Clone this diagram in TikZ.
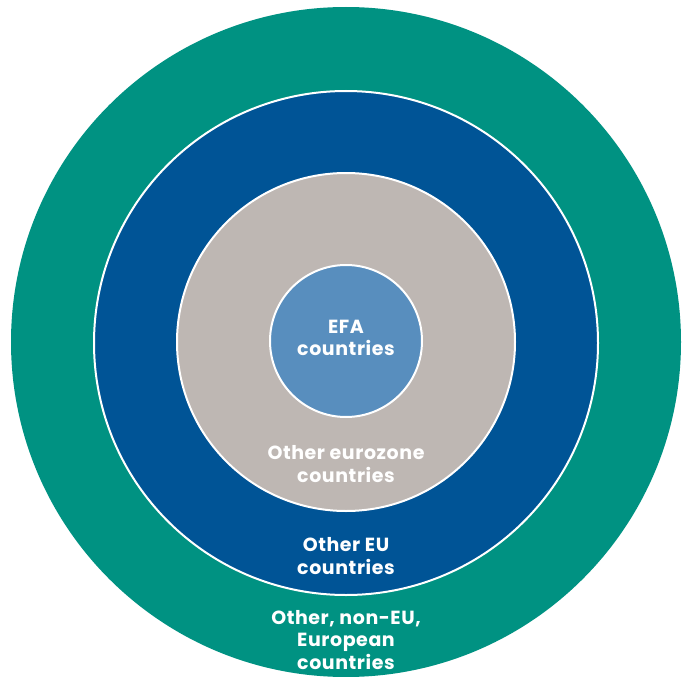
\documentclass[tikz,border=0pt]{standalone}
\usepackage{fontspec}
\setmainfont{Poppins}[LetterSpace=3]
\usepackage{xcolor}
\definecolor{cNonEU}{RGB}{0,146,130}
\definecolor{cEU}{RGB}{0,84,150}
\definecolor{cEuro}{RGB}{190,183,179}
\definecolor{cEFA}{RGB}{88,142,190}
\tikzset{
  ring/.style={circle,draw=white,line width=2pt,inner sep=0pt},
  lbl/.style={text=white,font=\bfseries\fontsize{19}{22.5}\selectfont,align=center,inner sep=0pt},
}

\begin{document}
\begin{tikzpicture}[x=1pt,y=-1pt]
  \useasboundingbox (0,0) rectangle (686,677);
  % nested circles, outermost first
  \node[ring,draw=none,fill=cNonEU,minimum size=670pt] (noneu) at (346,342) {};
  \node[ring,fill=cEU,minimum size=504pt] (eu) at (346,343) {};
  \node[ring,fill=cEuro,minimum size=338pt] (euro) at (346,342) {};
  \node[ring,fill=cEFA,minimum size=152pt] (efa) at (346,341) {};

  % labels
  \node[lbl] (efaLbl) at (346,338) {EFA\\countries};
  \node[lbl] (euroLbl) at (346,464) {Other eurozone\\countries};
  \node[lbl] (euLbl) at (346,556) {Other EU\\countries};
  \node[lbl] (noneuLbl) at (346,640) {Other, non-EU,\\European\\countries};
\end{tikzpicture}
\end{document}
